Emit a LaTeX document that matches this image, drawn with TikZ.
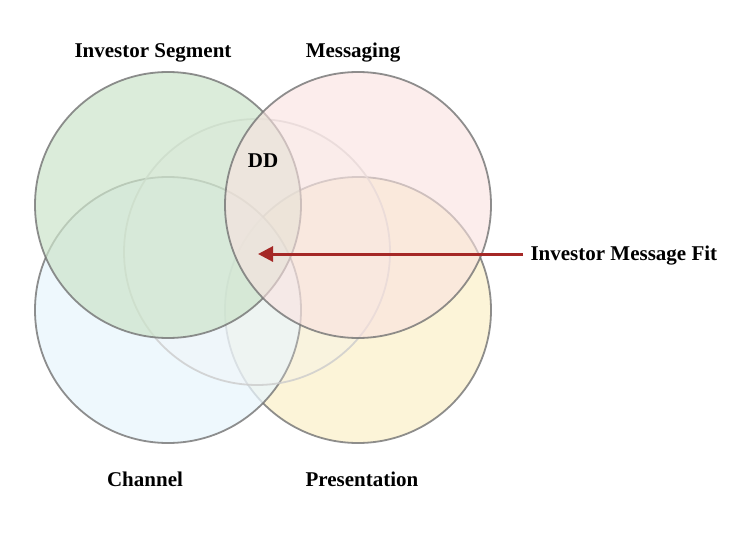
\documentclass[tikz,border=0pt]{standalone}
\usepackage{fontspec}
\setmainfont{Liberation Serif}
\usetikzlibrary{arrows.meta}
\begin{document}
\begin{tikzpicture}[x=1pt,y=-1pt,
  venn/.style={circle, minimum size=266pt, inner sep=0pt, line width=1.8pt, draw=black!55, draw opacity=0.8},
  lbl/.style={font=\fontsize{21}{25}\selectfont\bfseries, text=black},
  fitarrow/.style={draw={rgb,255:red,165;green,40;blue,38}, line width=3pt, -{Triangle[length=15pt,width=15pt]}}]
\useasboundingbox (0,0) rectangle (746,540);
\fill[white] (0,0) rectangle (746,540);
\definecolor{cgreen}{RGB}{205,228,203}
\definecolor{cpink}{RGB}{250,226,224}
\definecolor{cblue}{RGB}{233,246,253}
\definecolor{cyellow}{RGB}{252,244,216}
\node[venn, fill=cyellow] (pr) at (358,310) {};
\node[venn, fill=cblue, fill opacity=0.75] (ch) at (168,310) {};
\node[venn, fill=gray!10, fill opacity=0.25, draw=black!20, draw opacity=0.8] (dd) at (257,252) {};
\node[venn, fill=cgreen, fill opacity=0.7] (is) at (168,205) {};
\node[venn, fill=cpink, fill opacity=0.6] (ms) at (358,205) {};
\node[lbl] (tis) at (153,53) {Investor Segment};
\node[lbl] (tms) at (353,53) {Messaging};
\node[lbl] (tdd) at (263,161) {DD};
\node[lbl] (tch) at (145,479) {Channel};
\node[lbl] (tpr) at (362,479) {Presentation};
\node[lbl, anchor=west] (tfit) at (527,256) {Investor Message Fit};
\coordinate (tip) at (258,254);
\draw[fitarrow] (tfit.west) ++(-4,-2) -- (tip);
\end{tikzpicture}
\end{document}
